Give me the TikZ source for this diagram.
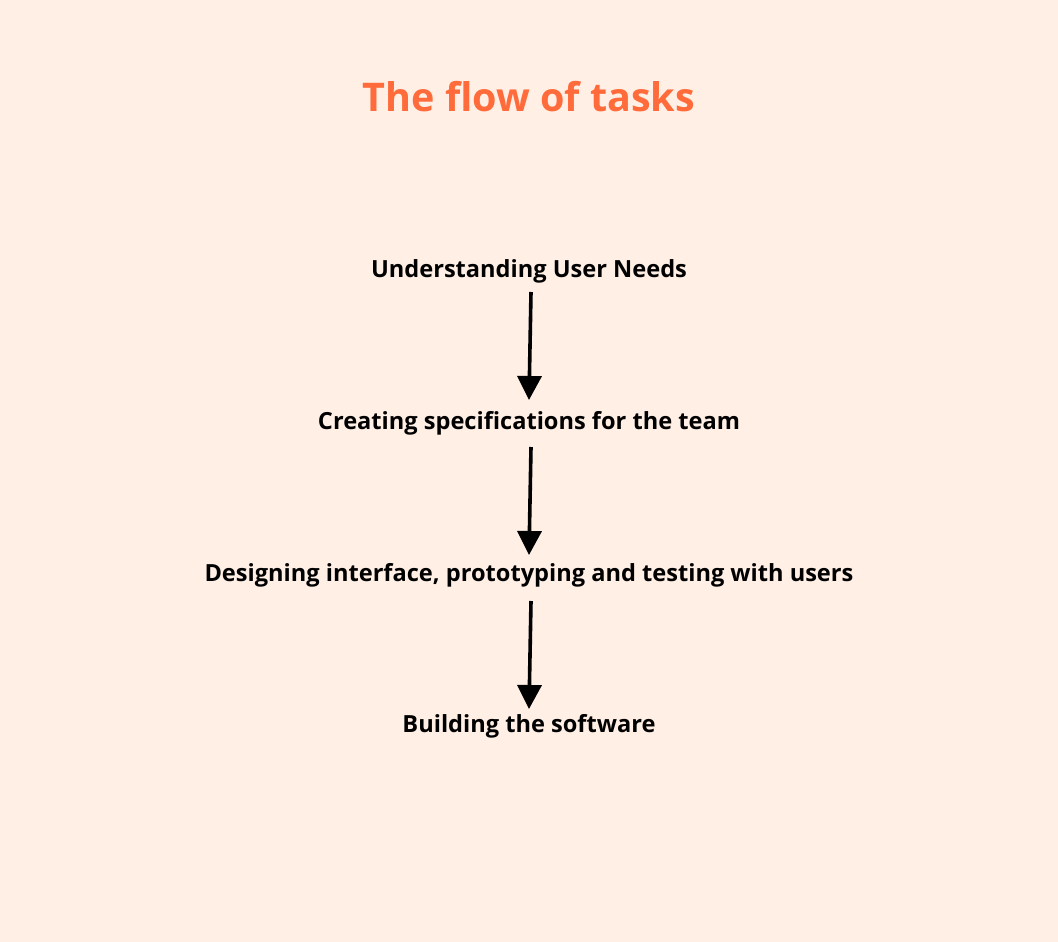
\documentclass[tikz,border=0pt]{standalone}
\usepackage{fontspec}
\setmainfont{Open Sans}
\usetikzlibrary{arrows.meta,calc}
\definecolor{bgc}{HTML}{FFEFE5}
\definecolor{titlec}{HTML}{FF6B3A}
\begin{document}
\begin{tikzpicture}[x=1pt,y=-1pt,
  stepbox/.style={font=\bfseries\fontsize{23.6}{28}\selectfont, text=black, inner sep=0pt},
  flow/.style={line width=3.6pt, -{Triangle[width=24pt,length=24pt]}}]
\fill[bgc] (0,0) rectangle (1058,942);
\useasboundingbox (0,0) rectangle (1058,942);
\node[font=\bfseries\fontsize{39.5}{45}\selectfont, text=titlec, inner sep=0pt] (title) at (529,97) {The flow of tasks};
\node[stepbox] (s1) at (529,271) {Understanding User Needs};
\node[stepbox] (s2) at (529,423) {Creating specifications for the team};
\node[stepbox] (s3) at (529,575) {Designing interface, prototyping and testing with users};
\node[stepbox] (s4) at (529,726) {Building the software};
\draw[flow] ($(s1.center)+(2,21)$) -- ($(s2.center)+(0,-23)$);
\draw[flow] ($(s2.center)+(2,24)$) -- ($(s3.center)+(0,-20)$);
\draw[flow] ($(s3.center)+(2,26)$) -- ($(s4.center)+(0,-17)$);
\end{tikzpicture}
\end{document}
